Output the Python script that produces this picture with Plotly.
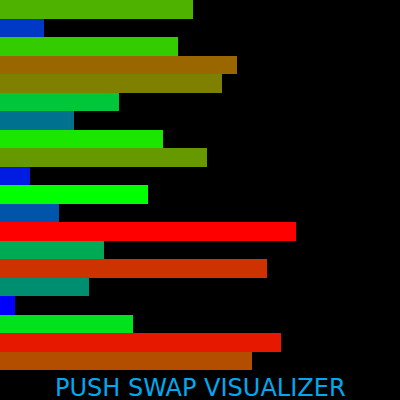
import plotly.graph_objects as go

positions = list(range(20))
values = [13, 3, 12, 16, 15, 8, 5, 11, 14, 2, 10, 4, 20, 7, 18, 6, 1, 9, 19, 17]
title_text = "PUSH SWAP VISUALIZER"

vmin, vmid, vmax = 1, 10, 20
colorscale = [
    [0.0, "rgb(0,0,255)"],
    [(vmid - vmin) / (vmax - vmin), "rgb(0,255,0)"],
    [1.0, "rgb(255,0,0)"],
]

fig = go.Figure(
    go.Bar(
        x=values,
        y=positions,
        orientation="h",
        marker=dict(
            color=values,
            colorscale=colorscale,
            cmin=vmin,
            cmax=vmax,
            line=dict(width=0),
        ),
        hoverinfo="skip",
    )
)

fig.update_layout(
    width=400,
    height=400,
    margin=dict(l=0, r=0, t=0, b=30),
    paper_bgcolor="black",
    plot_bgcolor="black",
    bargap=0,
    showlegend=False,
    xaxis=dict(range=[0, 27], visible=False, fixedrange=True),
    yaxis=dict(range=[19.5, -0.5], visible=False, fixedrange=True),
    annotations=[
        dict(
            text=title_text,
            x=0.5,
            xref="paper",
            y=388,
            yref="paper",
            showarrow=False,
            font=dict(family="DejaVu Sans", size=24, color="#00a8f0"),
        )
    ],
)
fig.layout.annotations[0].update(y=-18 / 370, yanchor="middle")

fig.write_html("out.html", config={"displayModeBar": False})
